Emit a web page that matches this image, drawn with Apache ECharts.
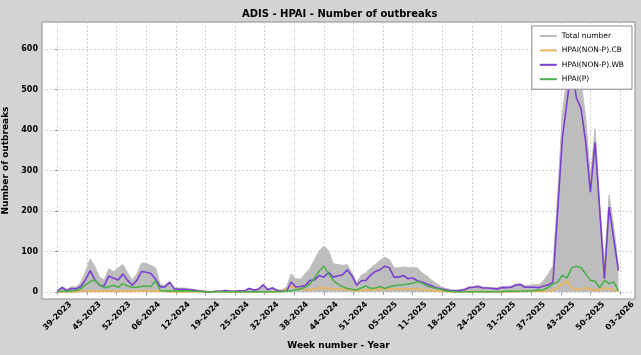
<!DOCTYPE html>
<html><head><meta charset="utf-8">
<script src="https://cdn.jsdelivr.net/npm/echarts@6/dist/echarts.min.js"></script>
<style>html,body{margin:0;padding:0;background:#d3d3d3;}#c{width:641px;height:355px;}</style>
</head><body><div id="c"></div>
<script>
const weeks = [
 '39-2023','40-2023','41-2023','42-2023','43-2023','44-2023','45-2023','46-2023','47-2023','48-2023','49-2023','50-2023','51-2023','52-2023',
 '01-2024','02-2024','03-2024','04-2024','05-2024','06-2024','07-2024','08-2024','09-2024','10-2024','11-2024','12-2024','13-2024','14-2024','15-2024','16-2024','17-2024','18-2024','19-2024','20-2024','21-2024','22-2024','23-2024','24-2024','25-2024','26-2024','27-2024','28-2024','29-2024','30-2024','31-2024','32-2024','33-2024','34-2024','35-2024','36-2024','37-2024','38-2024','39-2024','40-2024','41-2024','42-2024','43-2024','44-2024','45-2024','46-2024','47-2024','48-2024','49-2024','50-2024','51-2024','52-2024',
 '01-2025','02-2025','03-2025','04-2025','05-2025','06-2025','07-2025','08-2025','09-2025','10-2025','11-2025','12-2025','13-2025','14-2025','15-2025','16-2025','17-2025','18-2025','19-2025','20-2025','21-2025','22-2025','23-2025','24-2025','25-2025','26-2025','27-2025','28-2025','29-2025','30-2025','31-2025','32-2025','33-2025','34-2025','35-2025','36-2025','37-2025','38-2025','39-2025','40-2025','41-2025','42-2025','43-2025','44-2025','45-2025','46-2025','47-2025','48-2025','49-2025','50-2025','51-2025','52-2025',
 '01-2026','02-2026','03-2026'
];
const tickLabels = ['39-2023','45-2023','52-2023','06-2024','12-2024','19-2024','25-2024','32-2024','38-2024','44-2024','51-2024','05-2025','11-2025','18-2025','24-2025','31-2025','37-2025','43-2025','50-2025','03-2026'];
const yTickValues = [0, 100, 200, 300, 400, 500, 600];

const totalNumber = [
 5,14,7,13,13,24,50,82,63,37,
 30,58,50,60,68,48,30,45,72,70,
 66,60,18,17,27,11,10,10,9,7,
 5,3,2,2,3,3,5,3,3,4,
 4,10,6,8,20,8,12,6,5,12,
 45,33,32,45,58,80,103,113,103,70,
 68,66,68,48,24,42,48,60,68,78,
 86,80,60,60,62,60,60,60,47,40,
 30,22,14,9,7,5,6,8,13,14,
 16,12,12,11,10,13,14,15,20,22,
 16,17,18,18,28,45,65,240,440,535,
 632,552,522,428,285,403,218,72,240,162,
 60];
const nonPCB = [
 1,1,1,1,1,2,2,2,2,2,
 3,3,2,2,2,3,2,3,3,3,
 3,2,2,2,1,1,1,1,1,1,
 1,1,0,0,0,0,0,0,0,0,
 0,0,0,0,1,1,1,1,2,8,
 14,12,8,6,6,8,10,10,9,8,
 8,7,6,5,4,4,5,5,6,7,
 8,8,8,8,8,8,8,7,6,5,
 4,3,2,2,1,1,1,1,1,1,
 1,1,1,1,1,1,1,1,1,2,
 2,2,2,2,2,3,5,10,20,28,
 10,6,8,11,7,4,6,10,8,5,
 3];
const nonPWB = [
 3,11,4,9,8,14,30,53,30,17,
 16,40,34,30,45,29,17,29,51,49,
 46,32,13,13,24,8,7,7,6,5,
 3,2,1,1,2,2,4,2,2,3,
 3,9,5,7,18,6,10,4,2,2,
 25,13,14,16,29,30,41,37,49,37,
 40,43,55,40,17,28,29,42,51,55,
 64,60,37,37,41,33,35,28,25,20,
 16,11,8,6,4,3,4,6,11,12,
 14,10,10,9,8,11,11,12,17,18,
 12,12,12,11,15,18,25,200,380,470,
 560,480,453,370,247,370,200,33,210,130,
 53];
const hpaiP = [
 1,2,2,3,4,8,18,26,30,18,
 11,13,17,12,21,15,12,12,14,15,
 14,28,4,3,3,3,3,3,3,2,
 2,1,1,1,1,1,1,1,1,1,
 1,1,1,1,1,1,1,1,1,2,
 3,6,8,12,20,35,52,64,45,29,
 20,13,9,7,5,10,15,9,10,14,
 9,13,16,17,18,20,22,26,22,16,
 12,9,7,3,2,1,1,1,1,1,
 1,1,1,1,1,1,2,2,2,2,
 2,3,4,5,6,12,20,25,41,35,
 60,64,60,45,29,27,11,29,21,25,
 3];

const FONT = 'DejaVu Sans';
const tickStep = 120.33 / (tickLabels.length - 1);
const xTickValues = tickLabels.map((_, k) => +(k * tickStep).toFixed(4));
const toPts = arr => arr.map((v, i) => [i, v]);

const chart = echarts.init(document.getElementById('c'), null, {renderer: 'canvas'});
const lineSeries = (name, data, color, width) => ({
  name, type: 'line', data: toPts(data), symbol: 'none', showSymbol: false,
  itemStyle: {color}, lineStyle: {color, width}, emphasis: {disabled: true}
});
chart.setOption({
  backgroundColor: '#d3d3d3',
  animation: false,
  title: {
    text: 'ADIS - HPAI - Number of outbreaks', left: 242, top: 9, padding: 0,
    textStyle: {fontFamily: FONT, fontWeight: 'bold', fontSize: 10, color: '#000'}
  },
  legend: {
    orient: 'vertical', right: 9, top: 26, padding: [5, 8, 5, 8], itemGap: 4.4,
    itemWidth: 17, itemHeight: 2, icon: 'rect',
    backgroundColor: '#fff', borderColor: '#8c8c8c', borderWidth: 1, borderRadius: 0,
    textStyle: {fontFamily: FONT, fontSize: 7.5, color: '#000', lineHeight: 10},
    data: ['Total number', 'HPAI(NON-P).CB', 'HPAI(NON-P).WB', 'HPAI(P)']
  },
  grid: {
    left: 42, top: 22, right: 6, bottom: 56, show: true, backgroundColor: '#fff',
    borderColor: '#8c8c8c', borderWidth: 1, containLabel: false, outerBoundsMode: 'none'
  },
  xAxis: {
    type: 'value', min: -3.3, max: 123.54,
    axisLine: {show: false},
    axisTick: {show: true, length: 2, customValues: xTickValues, lineStyle: {color: '#888'}},
    axisLabel: {
      customValues: xTickValues, formatter: v => tickLabels[Math.round(v / tickStep)],
      rotate: 45, align: 'center', verticalAlign: 'middle', margin: 17,
      fontFamily: FONT, fontWeight: 'bold', fontSize: 8, color: '#000'
    },
    splitLine: {show: true, lineStyle: {color: '#d2d2d2', type: [2, 2], width: 1}},
    name: 'Week number - Year', nameLocation: 'middle', nameGap: 42,
    nameTextStyle: {fontFamily: FONT, fontWeight: 'bold', fontSize: 9, color: '#000'}
  },
  yAxis: {
    type: 'value', min: -17, max: 667,
    axisLine: {show: false},
    axisTick: {show: true, length: 2, customValues: yTickValues, lineStyle: {color: '#888'}},
    axisLabel: {customValues: yTickValues, margin: 4, fontFamily: FONT, fontWeight: 'bold', fontSize: 8, color: '#000'},
    splitLine: {show: true, lineStyle: {color: '#d2d2d2', type: [2, 2], width: 1}},
    name: 'Number of outbreaks', nameLocation: 'middle', nameGap: 24,
    nameTextStyle: {fontFamily: FONT, fontWeight: 'bold', fontSize: 9, color: '#000'}
  },
  series: [
    Object.assign(lineSeries('Total number', totalNumber, '#bdbdbd', 1), {areaStyle: {color: '#bdbdbd', opacity: 1}}),
    lineSeries('HPAI(NON-P).CB', nonPCB, '#e6b466', 2),
    lineSeries('HPAI(NON-P).WB', nonPWB, '#7a3fd0', 1.6),
    lineSeries('HPAI(P)', hpaiP, '#4cb04c', 1.6)
  ]
});
</script></body></html>
